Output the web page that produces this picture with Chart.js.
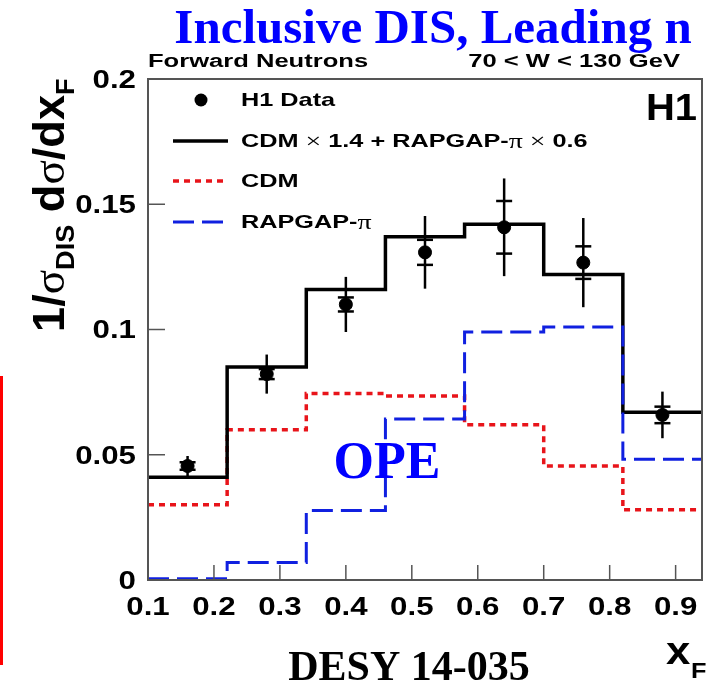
<!DOCTYPE html>
<html><head><meta charset="utf-8">
<script src="https://cdn.jsdelivr.net/npm/chart.js@4.4.1/dist/chart.umd.min.js"></script>
<style>
html,body{margin:0;padding:0;background:#fff;overflow:hidden}
#wrap{position:relative;width:717px;height:683px}
#redbar{position:absolute;left:0;top:376px;width:3px;height:289px;background:#f00}
</style></head><body>
<div id="wrap"><canvas id="c" width="717" height="683"></canvas><div id="redbar"></div></div>
<script>
// ---- data ----
const binEdges   = [0.10, 0.22, 0.34, 0.46, 0.58, 0.70, 0.82, 0.94];
const sumModel   = [0.041, 0.085, 0.116, 0.137, 0.142, 0.122, 0.067];   // CDM x 1.4 + RAPGAP-pi x 0.6
const cdmModel   = [0.030, 0.060, 0.0745, 0.0735, 0.062, 0.0455, 0.028];
const rapgapPi   = [0.0005, 0.007, 0.0277, 0.0643, 0.099, 0.101, 0.0482];
const dataX      = [0.16, 0.28, 0.40, 0.52, 0.64, 0.76, 0.88];
const dataY      = [0.0455, 0.0822, 0.110, 0.1308, 0.1408, 0.1267, 0.0659];
const statErr    = [0.0015, 0.002, 0.0028, 0.005, 0.0105, 0.0065, 0.0033];
const totErr     = [0.004, 0.0078, 0.011, 0.0145, 0.0195, 0.0178, 0.0093];
const yTicks     = [0, 0.05, 0.1, 0.15, 0.2];
const yTickLabels= ['0', '0.05', '0.1', '0.15', '0.2'];
const xTicks     = [0.1, 0.2, 0.3, 0.4, 0.5, 0.6, 0.7, 0.8, 0.9];
const xTickLabels= ['0.1', '0.2', '0.3', '0.4', '0.5', '0.6', '0.7', '0.8', '0.9'];
const seriesNames= ['H1 Data', 'CDM', 'RAPGAP-\u03c0'];

function histPoints(vals){
  return binEdges.map((e,i)=>({x:e, y: vals[Math.min(i, vals.length-1)]}));
}

const SX = 1.25;  // horizontal stretch of ROOT-style tick text
const LSX = 1.33; // legend stretch
const SANS = '"Liberation Sans", Arial, Helvetica, sans-serif';
const SERIF = '"Liberation Serif", "Times New Roman", serif';

function sText(ctx, txt, x, y, font, sx, align){
  ctx.save();
  ctx.font = font;
  const w = ctx.measureText(txt).width;
  ctx.translate(x, y);
  ctx.scale(sx, 1);
  let dx = 0;
  if (align === 'right') dx = -w; else if (align === 'center') dx = -w/2;
  ctx.fillText(txt, dx, 0);
  ctx.restore();
  return w * sx;
}
function segText(ctx, segs, x, y, sx){
  let cx = x;
  for (const s of segs){
    cx += sText(ctx, s[0], cx, y + (s[2]||0), s[1], sx, 'left');
  }
  return cx - x;
}

const decorPlugin = {
  id: 'decor',
  afterDatasetsDraw(chart){
    const ctx = chart.ctx, xs = chart.scales.x, ys = chart.scales.y;
    ctx.save();
    ctx.strokeStyle = '#000';
    ctx.lineWidth = 2.5;
    for (let i=0;i<dataX.length;i++){
      const px = xs.getPixelForValue(dataX[i]);
      const y1 = ys.getPixelForValue(dataY[i] + totErr[i]);
      const y2 = ys.getPixelForValue(dataY[i] - totErr[i]);
      ctx.beginPath(); ctx.moveTo(px, y1); ctx.lineTo(px, y2); ctx.stroke();
      for (const v of [dataY[i] + statErr[i], dataY[i] - statErr[i]]){
        const py = ys.getPixelForValue(v);
        ctx.beginPath(); ctx.moveTo(px-8, py); ctx.lineTo(px+8, py); ctx.stroke();
      }
    }
    ctx.restore();
  },
  afterDraw(chart){
    const ctx = chart.ctx, xs = chart.scales.x, ys = chart.scales.y, a = chart.chartArea;
    ctx.save();
    // frame
    ctx.strokeStyle = '#555';
    ctx.lineWidth = 2;
    ctx.strokeRect(a.left, a.top, a.right - a.left, a.bottom - a.top);
    // ticks
    ctx.lineWidth = 1.5;
    for (const t of yTicks){
      const py = ys.getPixelForValue(t);
      ctx.beginPath(); ctx.moveTo(a.left, py); ctx.lineTo(a.left + 17, py); ctx.stroke();
    }
    for (const t of xTicks){
      const px = xs.getPixelForValue(t);
      ctx.beginPath(); ctx.moveTo(px, a.bottom); ctx.lineTo(px, a.bottom - 15); ctx.stroke();
    }
    // tick labels
    ctx.fillStyle = '#000';
    ctx.textBaseline = 'middle';
    yTicks.forEach((t,i)=>{
      sText(ctx, yTickLabels[i], a.left - 12, ys.getPixelForValue(t) + 2, 'bold 25px ' + SANS, SX, 'right');
    });
    xTicks.forEach((t,i)=>{
      sText(ctx, xTickLabels[i], xs.getPixelForValue(t), a.bottom + 28, 'bold 25px ' + SANS, SX, 'center');
    });
    // axis titles
    ctx.textBaseline = 'alphabetic';
    sText(ctx, 'x', 666, 664, 'bold 38px ' + SANS, 1.15, 'left');
    sText(ctx, 'F', 691, 678, 'bold 22px ' + SANS, 1.15, 'left');
    // y title rotated
    ctx.save();
    ctx.translate(64, 332);
    ctx.rotate(-Math.PI/2);
    ctx.scale(1.13, 1.1);
    segText(ctx, [
      ['1/', 'bold 40px ' + SANS, 0],
      ['\u03c3', '40px ' + SERIF, 0],
      ['DIS', 'bold 24px ' + SANS, 9],
      [' d', 'bold 40px ' + SANS, 0],
      ['\u03c3', '40px ' + SERIF, 0],
      ['/dx', 'bold 40px ' + SANS, 0],
      ['F', 'bold 24px ' + SANS, 9]
    ], 0, 0, 1);
    ctx.restore();
    // top labels
    sText(ctx, 'Forward Neutrons', 148, 67, 'bold 18px ' + SANS, 1.42, 'left');
    sText(ctx, '70 < W < 130 GeV', 680, 67, 'bold 18px ' + SANS, 1.42, 'right');
    // H1 label
    sText(ctx, 'H1', 697, 120, 'bold 37px ' + SANS, 1.08, 'right');
    // title
    ctx.fillStyle = '#0000ff';
    sText(ctx, 'Inclusive DIS, Leading n', 433, 43, 'bold 49px ' + SERIF, 1, 'center');
    sText(ctx, 'OPE', 387, 478, 'bold 52px ' + SERIF, 1, 'center');
    ctx.fillStyle = '#000';
    sText(ctx, 'DESY 14-035', 409, 680, 'bold 42px ' + SERIF, 1, 'center');
    // legend
    const lx1 = 173, lx2 = 228, tx = 241;
    const rows = [100, 141, 181, 222];
    ctx.textBaseline = 'middle';
    ctx.beginPath(); ctx.arc(201, rows[0], 6.5, 0, Math.PI*2); ctx.fill();
    const B = 'bold 19px ' + SANS, N = '21px ' + SERIF;
    sText(ctx, seriesNames[0], tx, rows[0]+1, B, LSX, 'left');
    const ds = chart.data.datasets;
    for (let k=0;k<3;k++){
      const d = ds[k];
      ctx.save();
      ctx.strokeStyle = d.borderColor; ctx.lineWidth = d.borderWidth;
      ctx.setLineDash(d.borderDash || []);
      ctx.beginPath(); ctx.moveTo(lx1, rows[k+1]); ctx.lineTo(lx2, rows[k+1]); ctx.stroke();
      ctx.restore();
    }
    segText(ctx, [['CDM', B], [' \u00d7 ', N], ['1.4 + RAPGAP-', B], ['\u03c0', N], [' \u00d7 ', N], ['0.6', B]], tx, rows[1]+1, LSX);
    sText(ctx, seriesNames[1], tx, rows[2]+1, B, LSX, 'left');
    segText(ctx, [['RAPGAP-', B], ['\u03c0', N]], tx, rows[3]+1, LSX);
    ctx.restore();
  }
};

new Chart(document.getElementById('c'), {
  type: 'line',
  data: {
    datasets: [
      { label: 'CDM x 1.4 + RAPGAP-pi x 0.6', data: histPoints(sumModel), stepped: 'before',
        borderColor: '#000', borderWidth: 3.5, pointRadius: 0, fill: false, order: 3 },
      { label: seriesNames[1], data: histPoints(cdmModel), stepped: 'before',
        borderColor: '#e8141a', borderWidth: 3.5, borderDash: [6, 5], pointRadius: 0, fill: false, order: 4 },
      { label: seriesNames[2], data: histPoints(rapgapPi), stepped: 'before',
        borderColor: '#1020e0', borderWidth: 3, borderDash: [21, 8], pointRadius: 0, fill: false, order: 2 },
      { label: seriesNames[0], type: 'scatter', data: dataX.map((x,i)=>({x, y: dataY[i]})),
        showLine: false, pointRadius: 6.5, pointBackgroundColor: '#000', pointBorderColor: '#000', order: 1 }
    ]
  },
  options: {
    responsive: false,
    animation: false,
    devicePixelRatio: 1,
    layout: { padding: { left: 148, top: 79, right: 15, bottom: 103 } },
    plugins: { legend: { display: false }, tooltip: { enabled: false } },
    scales: {
      x: { type: 'linear', min: 0.1, max: 0.94, display: false },
      y: { type: 'linear', min: 0, max: 0.2, display: false }
    }
  },
  plugins: [decorPlugin]
});
</script>
</body></html>
